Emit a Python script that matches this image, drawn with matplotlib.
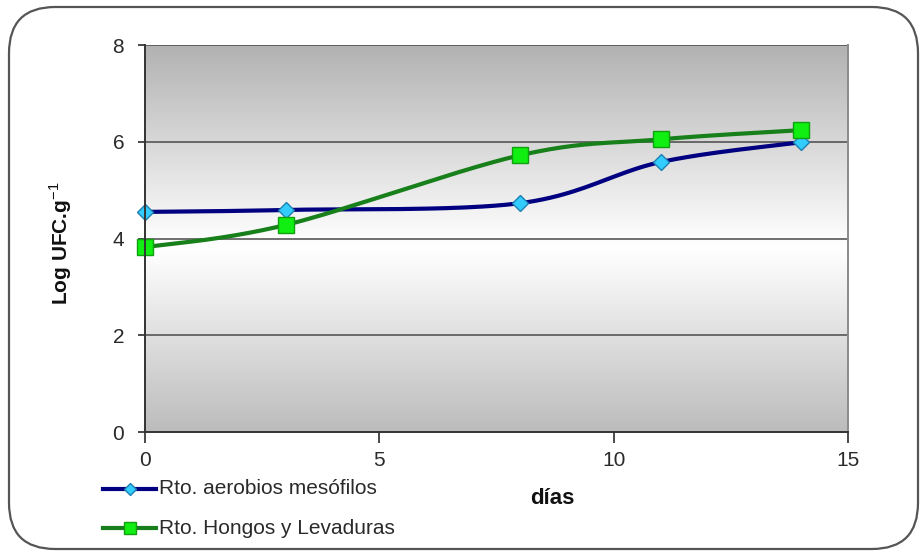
import numpy as np
import matplotlib

matplotlib.use("Agg")
import matplotlib.pyplot as plt
from matplotlib.patches import FancyBboxPatch
from matplotlib.colors import LinearSegmentedColormap

plt.rcParams["font.family"] = ["Liberation Sans", "DejaVu Sans"]
plt.rcParams["mathtext.fontset"] = "custom"
plt.rcParams["mathtext.rm"] = "Liberation Sans"
plt.rcParams["mathtext.bf"] = "Liberation Sans:bold"

dias = [0, 3, 8, 11, 14]
aerobios = [4.55, 4.59, 4.73, 5.58, 5.99]
hongos = [3.82, 4.28, 5.72, 6.05, 6.24]
series_labels = ["Rto. aerobios mesófilos", "Rto. Hongos y Levaduras"]


def smooth(x, y, n=40):
    # Bezier smoothing through each point, like spreadsheet "smoothed line"
    x, y = np.asarray(x, float), np.asarray(y, float)
    px = np.concatenate([[x[0]], x, [x[-1]]])
    py = np.concatenate([[y[0]], y, [y[-1]]])
    xs, ys = [], []
    t = np.linspace(0, 1, n)
    for i in range(1, len(px) - 2):
        p0 = np.array([px[i], py[i]])
        p3 = np.array([px[i + 1], py[i + 1]])
        p1 = p0 + (np.array([px[i + 1], py[i + 1]]) - np.array([px[i - 1], py[i - 1]])) / 6
        p2 = p3 - (np.array([px[i + 2], py[i + 2]]) - np.array([px[i], py[i]])) / 6
        b = ((1 - t) ** 3)[:, None] * p0 + (3 * (1 - t) ** 2 * t)[:, None] * p1 \
            + (3 * (1 - t) * t ** 2)[:, None] * p2 + (t ** 3)[:, None] * p3
        xs.append(b[:, 0])
        ys.append(b[:, 1])
    return np.concatenate(xs), np.concatenate(ys)


fig = plt.figure(figsize=(9.23, 5.55), dpi=100)
frame = FancyBboxPatch((9 / 923, 6 / 555), 909 / 923, 542 / 555,
                       boxstyle="round,pad=0,rounding_size=0.05",
                       transform=fig.transFigure, facecolor="white",
                       edgecolor="#555555", linewidth=1.6,
                       mutation_aspect=923 / 555, zorder=-5)
fig.patches.append(frame)

ax = fig.add_axes([145 / 923, 123 / 555, 703 / 923, 387 / 555], zorder=2)

# grey-white-grey vertical gradient behind the plot
cmap = LinearSegmentedColormap.from_list(
    "bg", [(0, "#bcbcbc"), (0.47, "#ffffff"), (0.5, "#fdfdfd"), (1, "#b2b2b2")])
grad = np.linspace(0, 1, 256)[:, None]
ax.imshow(grad, extent=[0, 15, 0, 8], origin="lower", aspect="auto",
          cmap=cmap, zorder=0)

for yv in [2, 4, 6, 8]:
    ax.axhline(yv, color="#4a4a4a", lw=1.1, zorder=1)

sx, sy = smooth(dias, aerobios)
ax.plot(sx, sy, color="#000080", lw=3, zorder=3, solid_capstyle="round")
ax.plot(dias, aerobios, ls="none", marker="D", ms=8, mfc="#33ccff",
        mec="#1e7fb0", mew=1, zorder=4, clip_on=False)
sx, sy = smooth(dias, hongos)
ax.plot(sx, sy, color="#17801a", lw=3, zorder=3, solid_capstyle="round")
ax.plot(dias, hongos, ls="none", marker="s", ms=11, mfc="#11ee11",
        mec="#10a010", mew=1, zorder=4, clip_on=False)

ax.set_xlim(0, 15)
ax.set_ylim(0, 8)
ax.set_xticks([0, 5, 10, 15])
ax.set_yticks([0, 2, 4, 6, 8])
ax.tick_params(labelsize=15, colors="#2a2a2a", width=1.2)
ax.tick_params(axis="y", length=5, pad=10)
ax.tick_params(axis="x", length=8, pad=6)
for s in ["left", "bottom"]:
    ax.spines[s].set_color("#333333")
    ax.spines[s].set_linewidth(1.4)
ax.spines["right"].set_color("#8a8a8a")
ax.spines["right"].set_linewidth(1.4)
ax.spines["top"].set_visible(False)
ax.spines["left"].set_zorder(5)
ax.spines["bottom"].set_zorder(5)

fig.text(61 / 923, 1 - 243 / 555, r"Log UFC.g$^{\mathrm{-1}}$", rotation=90,
         ha="center", va="center", fontsize=15, fontweight="bold", color="#111111")
fig.text(552 / 923, 1 - 498 / 555, "días", ha="center", va="center",
         fontsize=16, fontweight="bold", color="#111111")

# legend drawn by hand below the axis, left side
fig.add_artist(plt.Line2D([103 / 923, 156 / 923], [1 - 489 / 555] * 2,
                          color="#000080", lw=3))
fig.add_artist(plt.Line2D([130 / 923], [1 - 489 / 555], marker="D", ms=6,
                          mfc="#33ccff", mec="#1e7fb0", ls="none"))
fig.text(159 / 923, 1 - 489 / 555, series_labels[0], va="center",
         fontsize=15, color="#2a2a2a")
fig.add_artist(plt.Line2D([103 / 923, 156 / 923], [1 - 528 / 555] * 2,
                          color="#17801a", lw=3))
fig.add_artist(plt.Line2D([130 / 923], [1 - 528 / 555], marker="s", ms=9,
                          mfc="#11ee11", mec="#10a010", ls="none"))
fig.text(159 / 923, 1 - 528 / 555, series_labels[1], va="center",
         fontsize=15, color="#2a2a2a")

fig.savefig("out.png", dpi=100)
